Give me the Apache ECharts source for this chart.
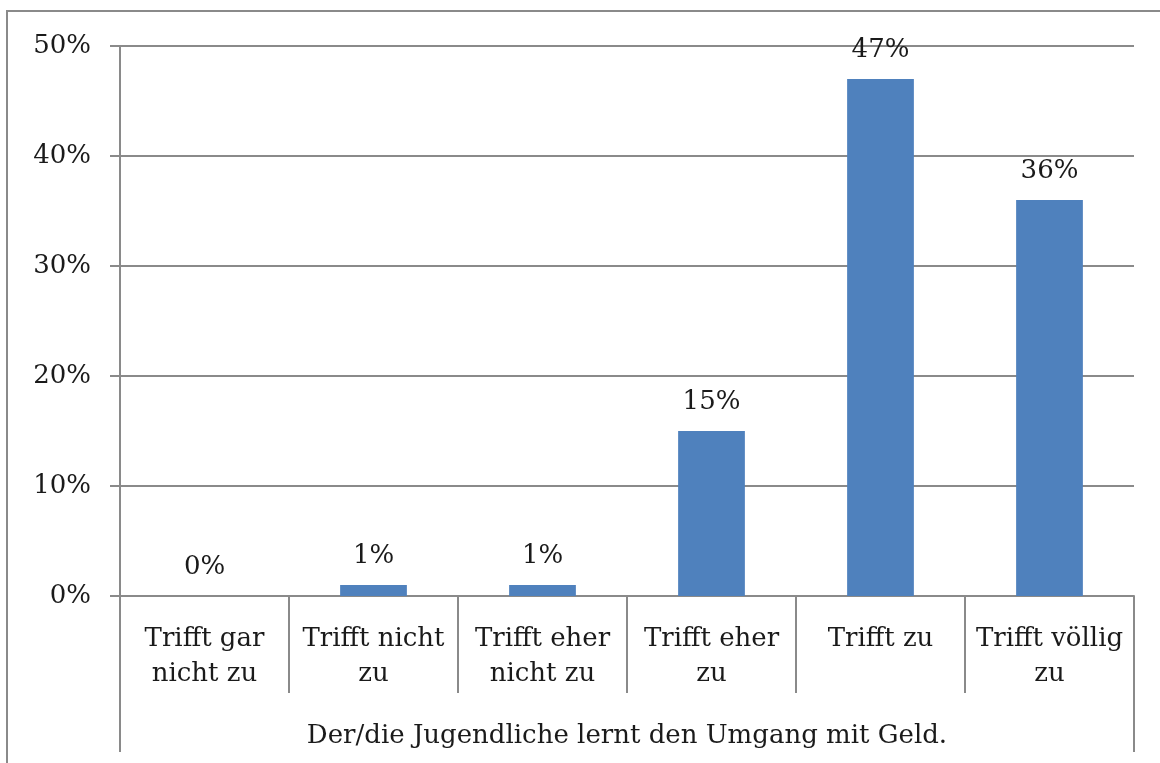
<!DOCTYPE html>
<html>
<head>
<meta charset="utf-8">
<script src="https://cdn.jsdelivr.net/npm/echarts@6/dist/echarts.min.js"></script>
<style>
html,body{margin:0;padding:0;background:#fff;}
#chart{width:1160px;height:763px;}
</style>
</head>
<body>
<div id="chart"></div>
<script>
var categories = ['Trifft gar\nnicht zu', 'Trifft nicht\nzu', 'Trifft eher\nnicht zu', 'Trifft eher\nzu', 'Trifft zu', 'Trifft völlig\nzu'];
var values = [0, 1, 1, 15, 47, 36];
var groupLabel = ['Der/die Jugendliche lernt den Umgang mit Geld.'];
var yTicks = { min: 0, max: 50, interval: 10 };

var FONT = 'DejaVu Serif';
var GRAY = '#8a8a8a';
var TEXT = '#1a1a1a';

var chart = echarts.init(document.getElementById('chart'), null, { renderer: 'canvas' });
chart.setOption({
  animation: false,
  backgroundColor: '#fff',
  graphic: [{
    type: 'rect',
    shape: { x: 7, y: 11, width: 1200, height: 800 },
    style: { fill: 'none', stroke: GRAY, lineWidth: 2 },
    silent: true
  }],
  grid: { left: 120, right: 26, top: 46, bottom: 167, containLabel: false },
  xAxis: [{
    type: 'category',
    data: categories,
    position: 'bottom',
    axisLine: { show: true, lineStyle: { color: GRAY, width: 2 } },
    axisTick: { show: true, length: 97, alignWithLabel: false, lineStyle: { color: GRAY, width: 2 } },
    axisLabel: { fontFamily: FONT, fontSize: 26, color: TEXT, margin: 26, lineHeight: 35, interval: 0 }
  }, {
    type: 'category',
    data: groupLabel,
    position: 'bottom',
    axisLine: { show: false },
    axisTick: { show: true, length: 156, lineStyle: { color: GRAY, width: 2 } },
    axisLabel: { fontFamily: FONT, fontSize: 26, color: TEXT, margin: 127 }
  }],
  yAxis: {
    type: 'value',
    min: yTicks.min, max: yTicks.max, interval: yTicks.interval,
    axisLine: { show: true, lineStyle: { color: GRAY, width: 2 } },
    axisTick: { show: true, length: 10, inside: false, lineStyle: { color: GRAY, width: 2 } },
    splitLine: { show: true, lineStyle: { color: GRAY, width: 2 } },
    axisLabel: { fontFamily: FONT, fontSize: 26, color: TEXT, margin: 29, formatter: '{value}%' }
  },
  series: [{
    type: 'bar',
    data: values,
    xAxisIndex: 0,
    barWidth: '39.5%',
    itemStyle: { color: '#4F81BD' },
    label: { show: true, position: 'top', distance: 16, fontFamily: FONT, fontSize: 26, color: TEXT, formatter: '{c}%' }
  }]
});
</script>
</body>
</html>
